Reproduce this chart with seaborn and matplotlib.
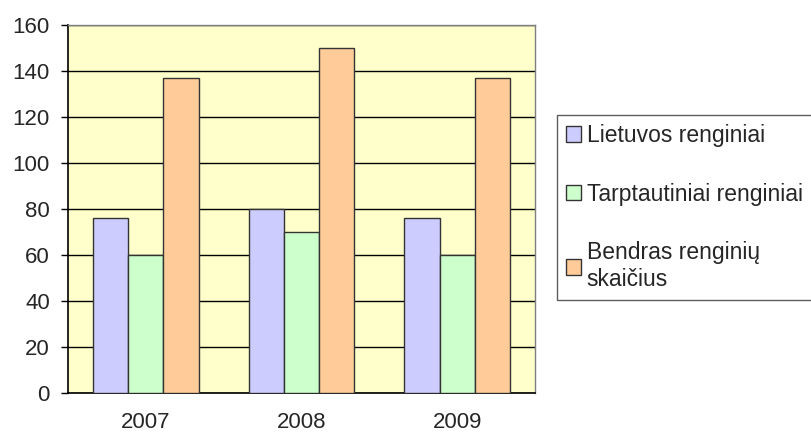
import pandas as pd
import seaborn as sns
import matplotlib.pyplot as plt

# Data
years = ['2007', '2008', '2009']
series = ['Lietuvos renginiai', 'Tarptautiniai renginiai', 'Bendras renginių\nskaičius']
lietuvos = [76, 80, 76]
tarptautiniai = [60, 70, 60]
bendras = [137, 150, 137]

colors = ['#CCCCFF', '#CCFFCC', '#FFCC99']

df = pd.DataFrame({
    'year': years * 3,
    'series': [series[0]] * 3 + [series[1]] * 3 + [series[2]] * 3,
    'value': lietuvos + tarptautiniai + bendras,
})

sns.set_style('white')
plt.rcParams['font.family'] = ['Liberation Sans', 'DejaVu Sans']

fig = plt.figure(figsize=(8.11, 4.36), dpi=100)
ax = fig.add_axes([0.0838, 0.0986, 0.5759, 0.8441])
ax.set_facecolor('#FFFFCC')

sns.barplot(data=df, x='year', y='value', hue='series', palette=colors, saturation=1,
            width=0.68, edgecolor='#333333', linewidth=1, ax=ax, zorder=3)

ax.set_ylim(0, 160)
ax.set_xlim(-0.5, 2.5)
ax.set_yticks(range(0, 161, 20))
ax.yaxis.grid(True, color='black', linewidth=1, zorder=0)
ax.set_axisbelow(True)
ax.set_xlabel('')
ax.set_ylabel('')

# category boundary ticks
ax.set_xticks([-0.5, 0.5, 1.5, 2.5], minor=True)
ax.tick_params(axis='x', which='minor', length=6, width=1.2, color='black', direction='out')
ax.tick_params(axis='x', which='major', length=0, pad=14, labelsize=16)
ax.tick_params(axis='y', length=5, width=1, color='black', direction='out', left=True, labelsize=16, pad=8)

for s in ['left', 'bottom']:
    ax.spines[s].set_color('black')
    ax.spines[s].set_linewidth(1.2)
for s in ['top', 'right']:
    ax.spines[s].set_color('#808080')
    ax.spines[s].set_linewidth(1)

handles, labels = ax.get_legend_handles_labels()
ax.legend_.remove()
leg = fig.legend(handles, labels, loc='upper left', bbox_to_anchor=(557 / 811, 1 - 115 / 436),
                 frameon=True, fancybox=False, edgecolor='#333333', fontsize=16.5,
                 handlelength=0.65, handleheight=0.65, handletextpad=0.25,
                 labelspacing=1.55, borderpad=0.4, borderaxespad=0)
leg.get_frame().set_linewidth(1)
for h in leg.legend_handles:
    h.set_edgecolor('#333333')

fig.savefig('out.png', dpi=100)
